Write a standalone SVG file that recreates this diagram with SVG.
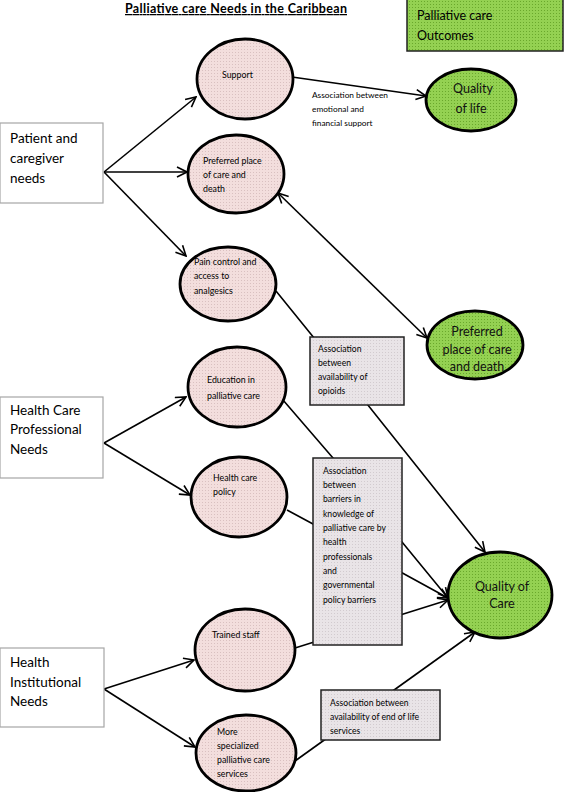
<svg xmlns="http://www.w3.org/2000/svg" width="567" height="792" viewBox="0 0 567 792">
<defs>
<pattern id="pinkDots" width="3" height="3" patternUnits="userSpaceOnUse"><rect width="3" height="3" fill="#f3dedd"/><rect x="1" y="1" width="1" height="1" fill="#d9c0c0"/></pattern>
<pattern id="greenDots" width="3" height="3" patternUnits="userSpaceOnUse"><rect width="3" height="3" fill="#94d152"/><rect x="1" y="1" width="1" height="1" fill="#6aa82c"/></pattern>
<pattern id="greyDots" width="3" height="3" patternUnits="userSpaceOnUse"><rect width="3" height="3" fill="#e9e4e7"/><rect x="1" y="1" width="1" height="1" fill="#d2cbcf"/></pattern>
<marker id="arr" viewBox="0 0 12 12" refX="11" refY="6" markerWidth="12" markerHeight="12" markerUnits="userSpaceOnUse" orient="auto-start-reverse">
<path d="M1,1 L11,6 L1,11" fill="none" stroke="#000" stroke-width="1.6"/>
</marker>
</defs>
<style>
text{font-family:Lato,"Liberation Sans",sans-serif;fill:#000}
.conn line,.conn polyline{stroke:#000;stroke-width:1.6;fill:none}
.src rect{fill:#fff;stroke:#a6a6a6;stroke-width:1.2}
.src text{font-size:13.5px}
.need ellipse{fill:url(#pinkDots);stroke:#000;stroke-width:2.8}
.need text{font-size:8.8px}
.out ellipse{fill:url(#greenDots);stroke:#000;stroke-width:2.8}
.out text{font-size:12.5px;text-anchor:middle;fill:#111}
.assoc rect{fill:url(#greyDots);stroke:#222;stroke-width:1.5}
.assoc text{font-size:8.6px}
.lbl{font-size:8.3px}
</style>

<text x="125" y="13" font-size="12.5" font-weight="bold" text-decoration="underline" textLength="222" lengthAdjust="spacing">Palliative care Needs in the Caribbean</text>

<g id="connectors" class="conn">
<line x1="104" y1="172" x2="196" y2="97" marker-end="url(#arr)"/>
<line x1="104" y1="172" x2="187" y2="172" marker-end="url(#arr)"/>
<line x1="104" y1="172" x2="186" y2="256" marker-end="url(#arr)"/>
<line x1="292" y1="77" x2="426" y2="96" marker-end="url(#arr)"/>
<line x1="278" y1="193" x2="427" y2="338" marker-start="url(#arr)" marker-end="url(#arr)"/>
<polyline points="276,291 340,370 485,552" marker-end="url(#arr)"/>
<polyline points="283,400 333,458 448,598" marker-end="url(#arr)"/>
<polyline points="287,510 313,524 448,598" marker-end="url(#arr)"/>
<line x1="295" y1="648" x2="448" y2="600" marker-end="url(#arr)"/>
<line x1="104" y1="443" x2="186" y2="397" marker-end="url(#arr)"/>
<line x1="104" y1="443" x2="190" y2="495" marker-end="url(#arr)"/>
<line x1="104" y1="689" x2="194" y2="660" marker-end="url(#arr)"/>
<line x1="104" y1="689" x2="195" y2="747" marker-end="url(#arr)"/>
<line x1="295" y1="761" x2="475" y2="632" marker-end="url(#arr)"/>
</g>

<text class="lbl" x="312" y="98">Association between</text>
<text class="lbl" x="312" y="112">emotional and</text>
<text class="lbl" x="312" y="126">financial support</text>

<g id="outcomes-header">
<rect x="407" y="-1" width="156" height="52" fill="url(#greenDots)" stroke="#222" stroke-width="1.5"/>
<text x="417" y="20" font-size="12.5">Palliative care</text>
<text x="417" y="40" font-size="12.5">Outcomes</text>
</g>

<g id="patient-needs" class="src">
<rect x="0" y="123" width="103" height="80"/>
<text x="10" y="143">Patient and</text>
<text x="10" y="163">caregiver</text>
<text x="10" y="183">needs</text>
</g>

<g id="hcp-needs" class="src">
<rect x="0" y="397" width="103" height="81"/>
<text x="10" y="415">Health Care</text>
<text x="10" y="434">Professional</text>
<text x="10" y="454">Needs</text>
</g>

<g id="institutional-needs" class="src">
<rect x="0" y="648" width="104" height="79"/>
<text x="10" y="667">Health</text>
<text x="10" y="687">Institutional</text>
<text x="10" y="706">Needs</text>
</g>

<g id="support" class="need">
<ellipse cx="245" cy="79" rx="48" ry="40"/>
<text x="222" y="78">Support</text>
</g>

<g id="preferred-place-need" class="need">
<ellipse cx="236" cy="174" rx="48" ry="39"/>
<text x="203" y="164">Preferred place</text>
<text x="203" y="178">of care and</text>
<text x="203" y="192">death</text>
</g>

<g id="pain-control" class="need">
<ellipse cx="228" cy="284" rx="48" ry="37"/>
<text x="194" y="265">Pain control and</text>
<text x="194" y="279">access to</text>
<text x="194" y="294">analgesics</text>
</g>

<g id="education" class="need">
<ellipse cx="237" cy="387" rx="49" ry="40"/>
<text x="207" y="383">Education in</text>
<text x="207" y="399">palliative care</text>
</g>

<g id="policy" class="need">
<ellipse cx="239" cy="497" rx="48" ry="40"/>
<text x="213" y="481">Health care</text>
<text x="213" y="495">policy</text>
</g>

<g id="trained-staff" class="need">
<ellipse cx="245" cy="650" rx="50" ry="41"/>
<text x="212" y="638">Trained staff</text>
</g>

<g id="specialized-services" class="need">
<ellipse cx="246" cy="753" rx="50" ry="38"/>
<text x="217" y="735">More</text>
<text x="217" y="749">specialized</text>
<text x="217" y="763">palliative care</text>
<text x="217" y="777">services</text>
</g>

<g id="quality-of-life" class="out">
<ellipse cx="471" cy="100" rx="45" ry="31"/>
<text x="473" y="93">Quality</text>
<text x="471" y="113">of life</text>
</g>

<g id="preferred-place-outcome" class="out">
<ellipse cx="475" cy="345" rx="48" ry="34"/>
<text x="477" y="336">Preferred</text>
<text x="477" y="354">place of care</text>
<text x="477" y="371">and death</text>
</g>

<g id="quality-of-care" class="out">
<ellipse cx="500" cy="595" rx="52" ry="43"/>
<text x="502" y="591">Quality of</text>
<text x="502" y="608">Care</text>
</g>

<g id="assoc-opioids" class="assoc">
<rect x="310" y="337" width="94" height="68"/>
<text x="318" y="352">Association</text>
<text x="318" y="366">between</text>
<text x="318" y="380">availability of</text>
<text x="318" y="394">opioids</text>
</g>

<g id="assoc-barriers" class="assoc">
<rect x="313" y="458" width="89" height="187"/>
<text x="323" y="474">Association</text>
<text x="323" y="488">between</text>
<text x="323" y="502">barriers in</text>
<text x="323" y="517">knowledge of</text>
<text x="323" y="531">palliative care by</text>
<text x="323" y="545">health</text>
<text x="323" y="560">professionals</text>
<text x="323" y="574">and</text>
<text x="323" y="588">governmental</text>
<text x="323" y="603">policy barriers</text>
</g>

<g id="assoc-end-of-life" class="assoc">
<rect x="321" y="690" width="119" height="50"/>
<text x="330" y="706">Association between</text>
<text x="330" y="720">availability of end of life</text>
<text x="330" y="734">services</text>
</g>
</svg>
